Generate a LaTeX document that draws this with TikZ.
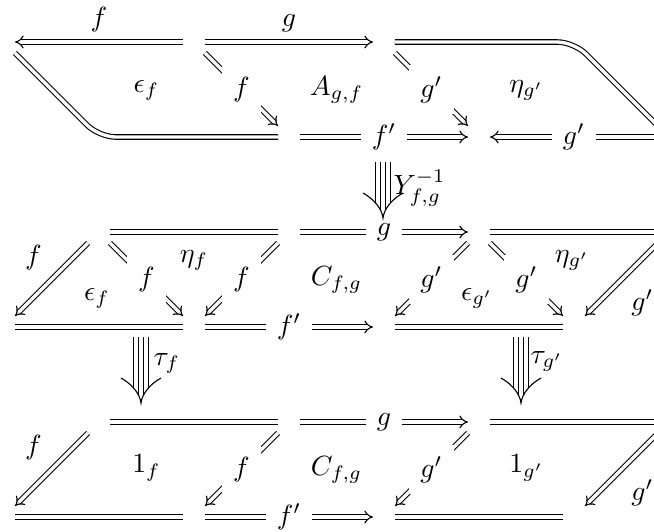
\documentclass[tikz,border=0pt]{standalone}
\usetikzlibrary{arrows.meta,calc}
\tikzset{
  obj/.style={inner sep=0pt, minimum size=7.5pt},
  eq/.style={double, double distance=1.2pt},
  ar/.style={eq, -{Implies[scale=1.5]}},
  brk/.style={fill=white, inner sep=4pt},
}
\begin{document}
\begin{tikzpicture}[x=0.36pt, y=-0.36pt]
  \useasboundingbox (0,0) rectangle (654,531);
  \clip (0,0) rectangle (654,531);
  \foreach \n/\c/\r in {a0/0/0, a2/2/0, a4/4/0, b3/3/1, b5/5/1, b7/7/1,
                        c1/1/2, c3/3/2, c5/5/2, c7/7/2, d0/0/3, d2/2/3, d4/4/3, d6/6/3,
                        e1/1/4, e3/3/4, e5/5/4, e7/7/4, f0/0/5, f2/2/5, f4/4/5, f6/6/5} {
    \node[obj] (\n) at (4+95*\c, 42+95*\r) {};
  }
  \coordinate (a6) at (574,42);
  \coordinate (b1) at (99,137);

  \draw[ar] (a2) -- node[above] {$f$} (a0);
  \draw[ar] (a2) -- node[above] {$g$} (a4);
  \draw[eq, rounded corners=6pt] (a0) -- (b1) -- (b3);
  \draw[eq, rounded corners=6pt] (a4) -- (a6) -- (b7);
  \draw[ar] (a2) -- node[brk] {$f$} (b3);
  \draw[ar] (a4) -- node[brk] {$g'$} (b5);
  \draw[ar] (b3) -- node[brk] {$f'$} (b5);
  \draw[ar] (b7) -- node[brk] {$g'$} (b5);

  \draw[eq] (c1) -- (c3);
  \draw[ar] (c3) -- node[brk] {$g$} (c5);
  \draw[eq] (c5) -- (c7);
  \draw[eq] (d0) -- (d2);
  \draw[ar] (d2) -- node[brk] {$f'$} (d4);
  \draw[eq] (d4) -- (d6);
  \draw[ar] (c1) -- node[above left] {$f$} (d0);
  \draw[ar] (c1) -- node[brk] {$f$} (d2);
  \draw[ar] (c3) -- node[brk] {$f$} (d2);
  \draw[ar] (c5) -- node[brk] {$g'$} (d4);
  \draw[ar] (c5) -- node[brk] {$g'$} (d6);
  \draw[ar] (c7) -- node[below right] {$g'$} (d6);

  \draw[eq] (e1) -- (e3);
  \draw[ar] (e3) -- node[brk] {$g$} (e5);
  \draw[eq] (e5) -- (e7);
  \draw[eq] (f0) -- (f2);
  \draw[ar] (f2) -- node[brk] {$f'$} (f4);
  \draw[eq] (f4) -- (f6);
  \draw[ar] (e1) -- node[above left] {$f$} (f0);
  \draw[ar] (e3) -- node[brk] {$f$} (f2);
  \draw[ar] (e5) -- node[brk] {$g'$} (f4);
  \draw[ar] (e7) -- node[below right] {$g'$} (f6);

  \foreach \n/\x/\y/\t in {epsA/146.5/90/{\epsilon_f}, A/336.5/90/{A_{g,f}}, etaA/526.5/90/{\eta_{g'}},
                           etaf/194/260/{\eta_f}, epsf/97/298/{\epsilon_f}, CB/336.5/280/{C_{f,g}},
                           epsg/477/298/{\epsilon_{g'}}, etag/572/260/{\eta_{g'}},
                           onef/146.5/468/{1_f}, CC/336.5/470/{C_{f,g}}, oneg/526.5/468/{1_{g'}}} {
    \node (\n) at (\x,\y) {$\t$};
  }

  \coordinate (Ytop) at (383,162);  \coordinate (Ytip) at (383,218);
  \coordinate (tftop) at (141,337); \coordinate (tftip) at (141,403);
  \coordinate (tgtop) at (521,337); \coordinate (tgtip) at (521,403);
  \foreach \n in {Y,tf,tg} {
    \foreach \dx in {-7.5,-2.5,2.5,7.5}
      \draw ($(\n top)+(\dx,0)$) -- ($(\n tip)+(\dx,{-3-1.6*abs(\dx)})$);
    \draw ($(\n tip)+(-20,-25)$) .. controls +(11,6) and +(-1,-9) .. (\n tip)
          .. controls +(1,-9) and +(-11,6) .. ($(\n tip)+(20,-25)$);
  }
  \node[anchor=west, inner sep=0pt] (Y) at (393,188) {$Y^{-1}_{f,g}$};
  \node[anchor=west, inner sep=0pt] (tauf) at (153,363) {$\tau_f$};
  \node[anchor=west, inner sep=0pt] (taug) at (530,361) {$\tau_{g'}$};
\end{tikzpicture}
\end{document}
